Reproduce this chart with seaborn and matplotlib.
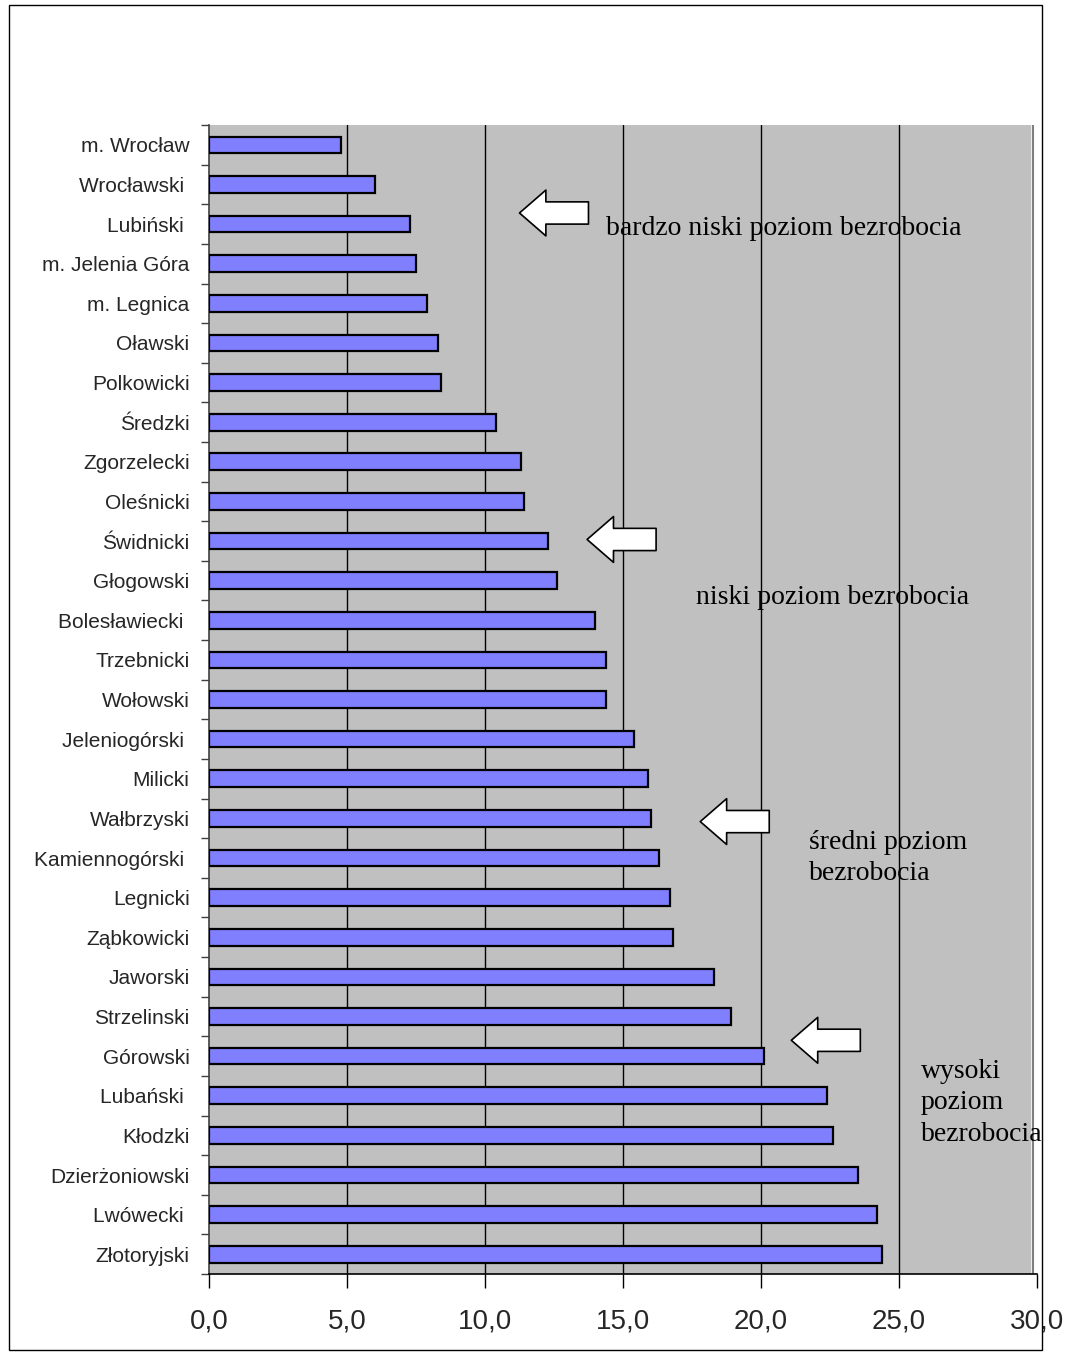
import matplotlib
matplotlib.use("Agg")
import matplotlib.pyplot as plt
import matplotlib.patches as mpatches
from matplotlib.ticker import FuncFormatter, FixedLocator
import seaborn as sns
import pandas as pd
import numpy as np

sns.set_theme(style="white")
plt.rcParams["font.family"] = ["Liberation Sans", "DejaVu Sans"]

powiaty = ["m. Wrocław", "Wrocławski ", "Lubiński ", "m. Jelenia Góra", "m. Legnica",
           "Oławski", "Polkowicki", "Średzki", "Zgorzelecki", "Oleśnicki",
           "Świdnicki", "Głogowski", "Bolesławiecki ", "Trzebnicki", "Wołowski",
           "Jeleniogórski ", "Milicki", "Wałbrzyski", "Kamiennogórski ", "Legnicki",
           "Ząbkowicki", "Jaworski", "Strzelinski", "Górowski", "Lubański ",
           "Kłodzki", "Dzierżoniowski", "Lwówecki ", "Złotoryjski"]
stopa = [4.8, 6.0, 7.3, 7.5, 7.9,
         8.3, 8.4, 10.4, 11.3, 11.4,
         12.3, 12.6, 14.0, 14.4, 14.4,
         15.4, 15.9, 16.0, 16.3, 16.7,
         16.8, 18.3, 18.9, 20.1, 22.4,
         22.6, 23.5, 24.2, 24.4]
x_ticks = [0, 5, 10, 15, 20, 25, 30]

# annotations: (text, x, y)
etykiety = [("bardzo niski poziom bezrobocia", 14.4, 2.1),
            ("niski poziom bezrobocia", 17.65, 11.42),
            ("średni poziom\nbezrobocia", 21.75, 18.0),
            ("wysoki\npoziom\nbezrobocia", 25.8, 24.18)]
# arrows: (tip x, tail x, y)
strzalki = [(11.25, 13.75, 1.72), (13.7, 16.2, 9.96),
            (17.8, 20.3, 17.08), (21.1, 23.6, 22.6)]

df = pd.DataFrame({"powiat": powiaty, "stopa": stopa})

fig = plt.figure(figsize=(10.74, 13.59), dpi=100)
ax = fig.add_axes([0.1946, 0.0625, 0.7709, 0.8455])
ax.set_facecolor("white")
ax.axvspan(0, 29.75, color="#c0c0c0", zorder=0)

sns.barplot(data=df, x="stopa", y="powiat", orient="h", color="#8080ff",
            saturation=1, width=0.42, edgecolor="black", linewidth=1.6, ax=ax, zorder=3)

ax.set_xlim(0, 30)
ax.set_ylim(len(powiaty) - 0.5, -0.5)
ax.set_xticks(x_ticks)
ax.xaxis.set_major_formatter(FuncFormatter(lambda v, p: f"{v:.1f}".replace(".", ",")))
for v in x_ticks[1:-1]:
    ax.axvline(v, color="black", linewidth=1.0, zorder=1)
ax.axvline(29.85, color="#808080", linewidth=1.5, zorder=1)

ax.tick_params(axis="x", direction="out", length=10, width=1, color="black",
               labelsize=20, pad=15, bottom=True)
ax.tick_params(axis="y", which="major", length=0, labelsize=15, pad=14)
ax.yaxis.set_minor_locator(FixedLocator(np.arange(-0.5, len(powiaty), 1.0)))
ax.tick_params(axis="y", which="minor", direction="out", length=6, width=1, color="#404040", left=True)
ax.set_xlabel("")
ax.set_ylabel("")

for side in ["top", "right"]:
    ax.spines[side].set_visible(False)
ax.spines["left"].set_color("#404040")
ax.spines["bottom"].set_color("black")
ax.spines["left"].set_linewidth(1.2)
ax.spines["bottom"].set_linewidth(1.2)

for tip, tail, y in strzalki:
    ax.annotate("", xy=(tip, y), xytext=(tail, y),
                arrowprops=dict(arrowstyle="simple,head_length=1.9,head_width=3.3,tail_width=1.6",
                                fc="white", ec="black", lw=1.2, mutation_scale=10,
                                shrinkA=0, shrinkB=0), zorder=4)

for txt, x, y in etykiety:
    ax.text(x, y, txt, ha="left", va="center", fontsize=20,
            family=["Liberation Serif", "DejaVu Serif"], color="black",
            linespacing=1.35, zorder=5)

fig.patches.append(mpatches.Rectangle((9 / 1074, 1 - 1350 / 1359), 1033 / 1074, 1345 / 1359,
                                      transform=fig.transFigure, fill=False,
                                      edgecolor="black", linewidth=1.0))

fig.savefig("out.png", dpi=100)
plt.close()
